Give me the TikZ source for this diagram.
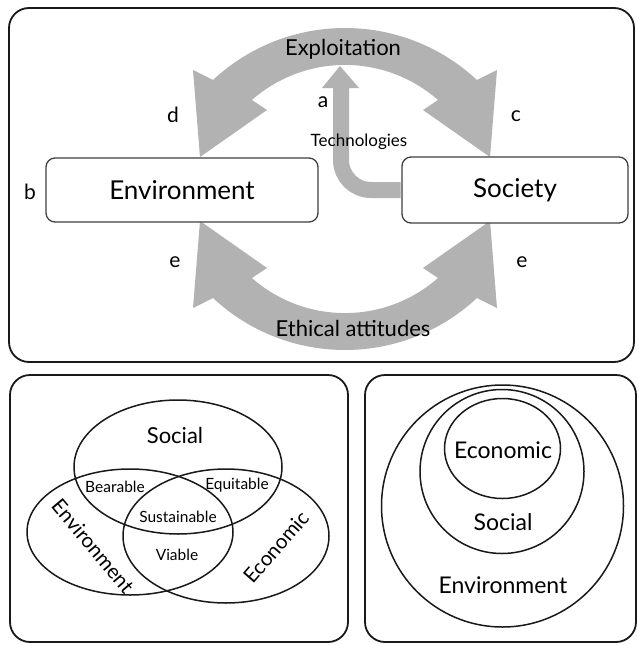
\documentclass[tikz,border=0pt]{standalone}
\usepackage{fontspec}
\setmainfont{Lato}
\begin{document}
\begin{tikzpicture}[x=1pt,y=-1pt,
  panel/.style={draw=black!90, line width=1.8pt, rounded corners=20pt},
  termbox/.style={draw=black!75, line width=1.3pt, rounded corners=9pt, fill=white, text=black, font=\fontsize{26}{28}\selectfont, inner sep=0pt},
  bigarrow/.style={fill=black!30, draw=none},
  flow/.style={draw=black!30, line width=16pt, rounded corners=30pt},
  letter/.style={text=black, font=\fontsize{21}{23}\selectfont, inner sep=0pt},
  arrowtext/.style={text=black, font=\fontsize{22}{24}\selectfont, inner sep=0pt},
  smalltext/.style={text=black, font=\fontsize{17}{19}\selectfont, inner sep=0pt},
  ring/.style={draw=black!90, line width=1.5pt},
  venntext/.style={text=black, font=\fontsize{15.5}{17}\selectfont, inner sep=0pt},
  setname/.style={text=black, font=\fontsize{22}{24}\selectfont, inner sep=0pt},
  tiltname/.style={text=black, font=\fontsize{20.5}{22}\selectfont, inner sep=0pt},
  nestname/.style={text=black, font=\fontsize{23}{25}\selectfont, inner sep=0pt}
]
\useasboundingbox (0,0) rectangle (638,645);
\fill[white] (0,0) rectangle (638,645);

% ---------- top panel ----------
\draw[panel] (9,8) rectangle (634,362);

% upper double-headed curved arrow (Exploitation)
\fill[bigarrow] (213,80) arc[start angle=227, end angle=313, radius=193.5]
  -- (497,70) -- (490,157) -- (423,110) -- (438,100)
  arc[start angle=311.3, end angle=228.7, radius=141]
  -- (267,110) -- (200,157) -- (193,70) -- cycle;

% lower double-headed curved arrow (Ethical attitudes)
\fill[bigarrow] (213,298) arc[start angle=133, end angle=47, radius=193.5]
  -- (497,308) -- (490,221) -- (423,268) -- (438,278)
  arc[start angle=48.7, end angle=131.3, radius=141]
  -- (267,268) -- (200,221) -- (193,308) -- cycle;

\node[termbox, minimum width=272pt, minimum height=64pt] (env) at (182,190) {Environment};
\node[termbox, minimum width=226pt, minimum height=66pt] (soc) at (515,190) {Society};

% Technologies arrow
\coordinate (techend) at (341,87);
\coordinate (techtip) at (340,66);
\draw[flow] ([xshift=-0.7pt]soc.west) -| (techend);
\fill[black!30] (322,88) -- (359,88) -- (techtip) -- cycle;

\node[arrowtext] (expl) at (343,49) {Exploitation};
\node[smalltext] (tech) at (359,142) {Technologies};
\node[arrowtext] (ethic) at (353,328) {Ethical attitudes};

\node[letter] (la) at (323,102) {a};
\node[letter] (lb) at (30,192) {b};
\node[letter] (lc) at (516,116) {c};
\node[letter] (ld) at (173,115) {d};
\node[letter] (le1) at (175,262) {e};
\node[letter] (le2) at (522,262) {e};

% ---------- bottom-left panel: Venn ----------
\draw[panel] (10,375) rectangle (348,642);
\draw[ring] (178,467) ellipse[x radius=104, y radius=67];
\draw[ring] (130,532) ellipse[x radius=103, y radius=63];
\draw[ring] (226,536) ellipse[x radius=103, y radius=67];

\node[setname] (vsoc) at (175,435) {Social};
\node[venntext] (vbear) at (115,487) {Bearable};
\node[venntext] (vequi) at (237,485) {Equitable};
\node[venntext] (vsust) at (178,517) {Sustainable};
\node[venntext] (vvia) at (177,555) {Viable};
\node[tiltname, rotate=-50] (venv) at (93,546) {Environment};
\node[tiltname, rotate=49] (veco) at (276,547) {Economic};

% ---------- bottom-right panel: nested ----------
\draw[panel] (365,375) rectangle (636,642);
\draw[ring] (502.5,506) circle[radius=121];
\draw[ring] (502,471.5) circle[radius=82];
\draw[ring] (502.5,448.5) ellipse[x radius=58, y radius=50];

\node[nestname] (neco) at (503,450) {Economic};
\node[nestname] (nsoc) at (503,522) {Social};
\node[nestname] (nenv) at (503,585) {Environment};
\end{tikzpicture}
\end{document}
